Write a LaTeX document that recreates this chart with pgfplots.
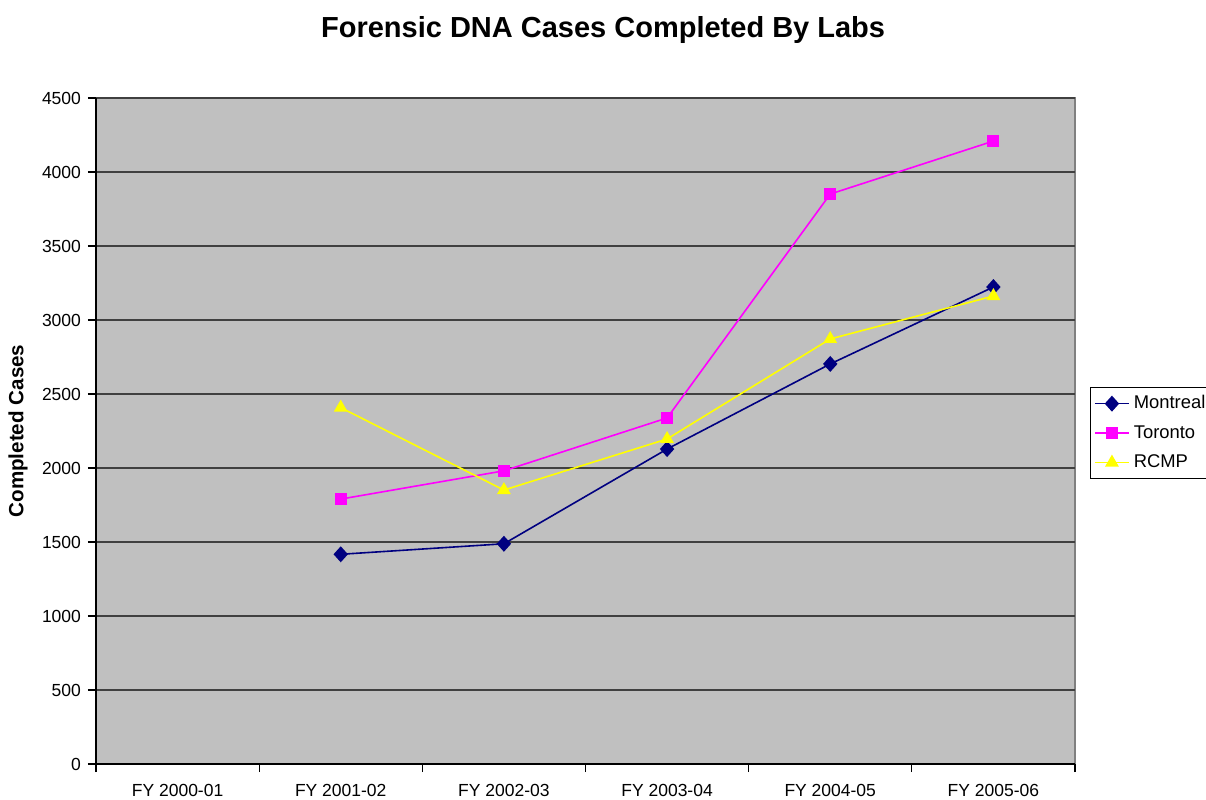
\documentclass[border=0pt]{standalone}
\usepackage{pgfplots}
\pgfplotsset{compat=1.18}
\usepackage{fontspec}
\setmainfont{Liberation Sans}
\definecolor{plotgray}{RGB}{192,192,192}
\definecolor{montreal}{RGB}{0,0,128}
\definecolor{toronto}{RGB}{255,0,255}
\definecolor{rcmp}{RGB}{255,255,0}
\begin{document}
\begin{tikzpicture}
\useasboundingbox (-48pt,-17.5pt) rectangle (555pt,382pt);
\begin{axis}[
  at={(0,0)}, anchor=south west,
  scale only axis,
  width=489.5pt, height=333pt,
  xmin=-0.5, xmax=5.5,
  ymin=0, ymax=4500,
  xtick={-0.5,0.5,...,5.5},
  xticklabels={},
  extra x ticks={0,1,2,3,4,5},
  extra x tick labels={FY 2000-01,FY 2001-02,FY 2002-03,FY 2003-04,FY 2004-05,FY 2005-06},
  extra x tick style={major tick length=0pt, xticklabel style={yshift=-6.5pt}},
  ytick={0,500,...,4500},
  tick align=outside,
  major tick length=4pt,
  axis x line*=bottom,
  axis y line*=left,
  axis line style={black, line width=0.6pt},
  tick style={black, line width=0.6pt},
  axis background/.style={fill=plotgray, draw=black!50, line width=0.6pt},
  ymajorgrids,
  grid style={black!75, line width=0.6pt},
  tick label style={font=\fontsize{8.75}{10}\selectfont},
  /pgf/number format/assume math mode=true,
  /pgf/number format/1000 sep={},
  title={Forensic DNA Cases Completed By Labs},
  title style={font=\bfseries\fontsize{14.5}{16}\selectfont, at={(axis description cs:0.518,1)}, anchor=center, yshift=28pt},
  ylabel={Completed Cases},
  ylabel style={font=\bfseries\fontsize{10.3}{12}\selectfont, at={(axis description cs:-0.0797,0.5)}, anchor=center},
  legend style={at={(axis description cs:1.015,0.497)}, anchor=west, draw=black, fill=white,
    font=\fontsize{9.2}{10}\selectfont, row sep=2.8pt, inner sep=2pt,
    legend cell align=left},
]
\addplot[color=montreal, line width=0.8pt, mark=diamond*, mark size=3.4pt, mark options={fill=montreal, xscale=1.2}]
  coordinates {(1,1417) (2,1488) (3,2128) (4,2703) (5,3223)};
\addplot[color=toronto, line width=0.8pt, mark=square*, mark size=2.6pt, mark options={fill=toronto}]
  coordinates {(1,1790) (2,1981) (3,2338) (4,3851) (5,4209)};
\addplot[color=rcmp, line width=0.8pt, mark=triangle*, mark size=3.2pt, mark options={fill=rcmp}]
  coordinates {(1,2408) (2,1851) (3,2196) (4,2872) (5,3162)};
\legend{Montreal,Toronto,RCMP}
\end{axis}
\end{tikzpicture}
\end{document}
